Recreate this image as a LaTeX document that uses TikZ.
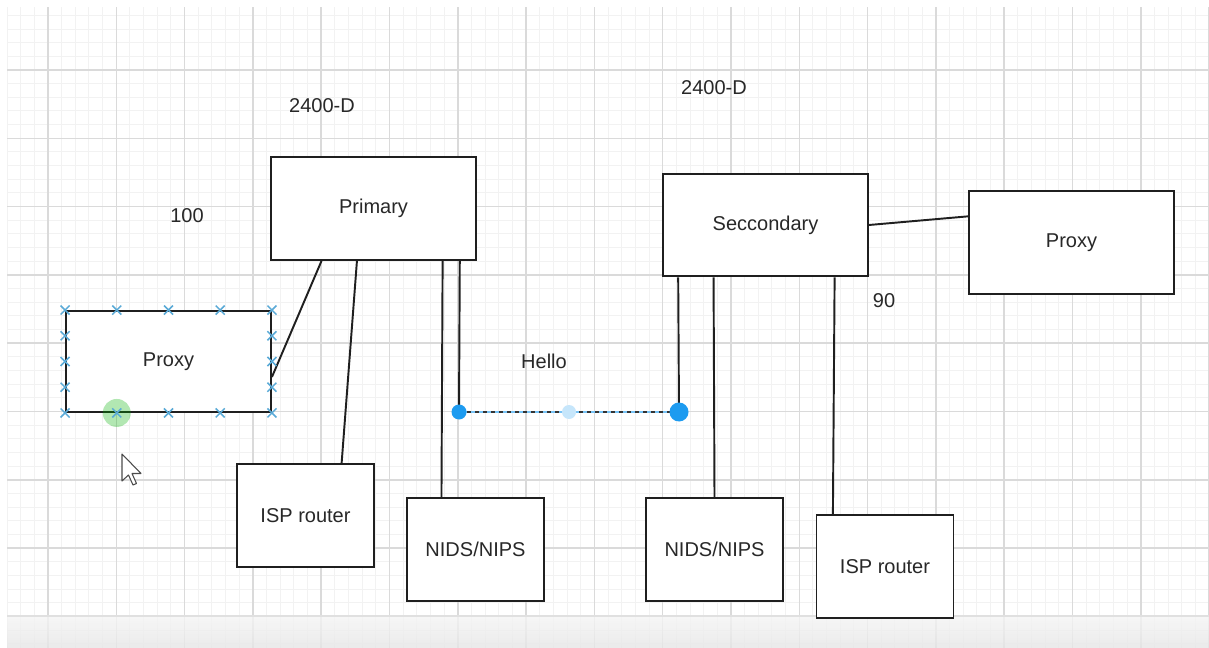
\documentclass[tikz,border=0pt]{standalone}
\usepackage{fontspec}
\setmainfont{Liberation Sans}
\usepackage{tikz}
\usetikzlibrary{calc}

\definecolor{gridminor}{RGB}{242,242,242}
\definecolor{gridmajor}{RGB}{218,218,218}
\definecolor{handle}{RGB}{29,155,240}
\definecolor{marker}{RGB}{90,170,215}
\definecolor{labeltext}{RGB}{40,40,40}

\tikzset{
	box/.style={draw=black!88, line width=1.45pt, fill=white, inner sep=0pt,
		text=labeltext, font=\fontsize{15}{18}\selectfont},
	bigbox/.style={box, minimum width=153.75pt, minimum height=77pt},
	smallbox/.style={box, minimum width=102.75pt, minimum height=77pt},
	note/.style={text=labeltext, font=\fontsize{15}{18}\selectfont, inner sep=0pt},
	link/.style={black!88, line width=1.45pt},
	xmark/.style={marker, line width=1.1pt}
}

\begin{document}
\begin{tikzpicture}[x=0.75pt, y=-0.75pt]

% page and grid
	\useasboundingbox (0,0) rectangle (1209,648);
	\fill[white] (0,0) rectangle (1209,648);
	\begin{scope}
		\clip (7,8) rectangle (1209,648);
		\foreach \k in {-3,...,85}
			\draw[gridminor, line width=0.75pt] ({48+13.66*\k},0) -- ({48+13.66*\k},648);
		\foreach \k in {-5,...,42}
			\draw[gridminor, line width=0.75pt] (0,{70+13.66*\k}) -- (1209,{70+13.66*\k});
		\foreach \k in {-1,...,17}
			\draw[gridmajor, line width=1.1pt] ({48+68.3*\k},0) -- ({48+68.3*\k},648);
		\foreach \k in {-1,...,8}
			\draw[gridmajor, line width=1.1pt] (0,{70+68.3*\k}) -- (1209,{70+68.3*\k});
	\end{scope}
	\shade[top color=black!4, bottom color=black!10, opacity=0.8] (7,616) rectangle (1209,648);
	\draw[black!12, line width=0.8pt] (7,616) -- (1209,616);

% boxes
	\node[bigbox] (primary) at (373.5,208.5) {Primary};
	\node[bigbox] (secondary) at (765.5,225) {Seccondary};
	\node[bigbox] (proxyR) at (1071.5,242.5) {Proxy};
	\node[bigbox, minimum height=75.75pt] (proxyL) at (168.5,361.5) {Proxy};
	\node[smallbox] (ispL) at (305.5,515.5) {ISP router};
	\node[smallbox] (nidsL) at (475.5,549.5) {NIDS/NIPS};
	\node[smallbox] (nidsR) at (714.5,549.5) {NIDS/NIPS};
	\node[smallbox] (ispR) at (885,566.5) {ISP router};

% labels
	\node[note] (modelL) at (322,106) {2400-D};
	\node[note] (modelR) at (714,88) {2400-D};
	\node[note] (costL) at (187,216) {100};
	\node[note] (costR) at (884,301) {90};
	\node[note] (hello) at (544,361) {Hello};

% connections
	\draw[link] ($(proxyL.north east)!0.65!(proxyL.south east)$)
		-- ($(primary.south west)!0.249!(primary.south east)$);
	\draw[link] ($(primary.south west)!0.42!(primary.south east)$)
		-- ($(ispL.north west)!0.76!(ispL.north east)$);
	\draw[link] ($(primary.south west)!0.834!(primary.south east)$)
		-- ($(nidsL.north west)!0.255!(nidsL.north east)$);
	\draw[link] ($(secondary.south west)!0.249!(secondary.south east)$) -- (nidsR.north);
	\draw[link] ($(secondary.south west)!0.834!(secondary.south east)$)
		-- ($(ispR.north west)!0.125!(ispR.north east)$);
	\draw[link] (secondary.east) -- ($(proxyR.north west)!0.25!(proxyR.south west)$);

% hello link (selected)
	\coordinate (helloA) at (459,412);
	\coordinate (helloB) at (679,412);
	\draw[link] ($(primary.south west)!0.917!(primary.south east)$) -- (helloA);
	\draw[link] ($(secondary.south west)!0.078!(secondary.south east)$) -- (helloB);
	\draw[handle!60, line width=2pt] (helloA) -- (helloB);
	\draw[black!80, line width=0.9pt, dashed] (helloA) -- (helloB);
	\fill[handle!25] ($(helloA)!0.5!(helloB)$) circle (7);
	\fill[handle] (helloA) circle (7.5);
	\fill[handle] (helloB) circle (9.5);

% selection handles on left proxy
	\fill[green!70!black, opacity=0.3] ($(proxyL.south west)!0.25!(proxyL.south east)$) circle (14);
	\foreach \t in {0,0.25,0.5,0.75,1} {
		\draw[xmark] ($(proxyL.north west)!\t!(proxyL.north east)$) +(-4.5,-4.5) -- +(4.5,4.5) +(-4.5,4.5) -- +(4.5,-4.5);
		\draw[xmark] ($(proxyL.south west)!\t!(proxyL.south east)$) +(-4.5,-4.5) -- +(4.5,4.5) +(-4.5,4.5) -- +(4.5,-4.5);
	}
	\foreach \t in {0.25,0.5,0.75} {
		\draw[xmark] ($(proxyL.north west)!\t!(proxyL.south west)$) +(-4.5,-4.5) -- +(4.5,4.5) +(-4.5,4.5) -- +(4.5,-4.5);
		\draw[xmark] ($(proxyL.north east)!\t!(proxyL.south east)$) +(-4.5,-4.5) -- +(4.5,4.5) +(-4.5,4.5) -- +(4.5,-4.5);
	}

% mouse pointer
	\draw[black!70, fill=white, line width=0.8pt, line join=round]
		(122,454) -- (122,481) -- (128.5,475) -- (133,485) -- (136.5,483.5) -- (132,473.5) -- (141,473.5) -- cycle;

\end{tikzpicture}
\end{document}
